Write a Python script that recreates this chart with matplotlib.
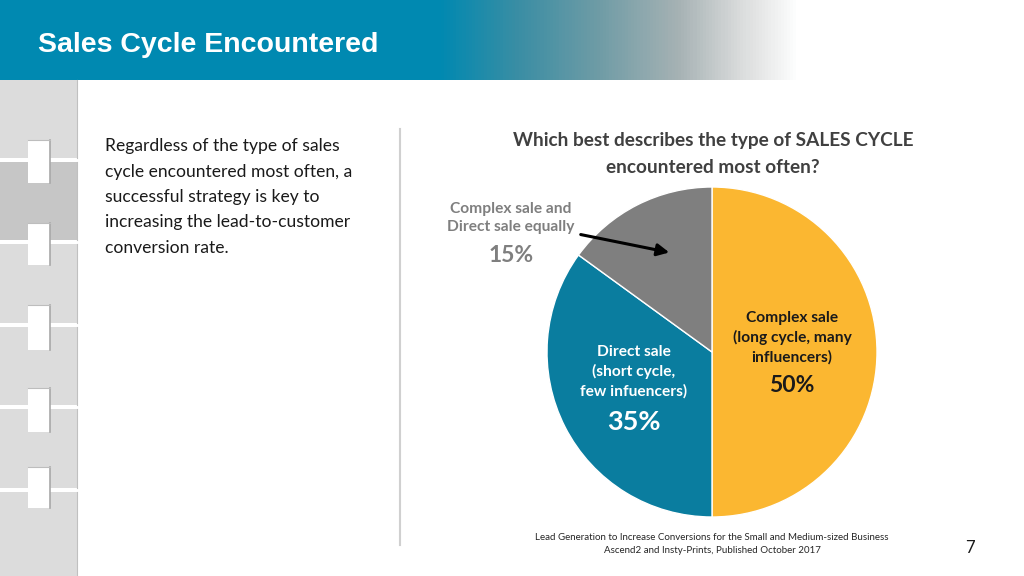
import numpy as np
import matplotlib.pyplot as plt
from matplotlib.colors import LinearSegmentedColormap
from matplotlib.patches import Rectangle

# data
slice_names = ['Complex sale\n(long cycle, many\ninfluencers)',
               'Direct sale\n(short cycle,\nfew infuencers)',
               'Complex sale and\nDirect sale equally']
slice_pcts = [50, 35, 15]
slice_colors = ['#FBB731', '#0A7D9F', '#7F7F7F']

title = 'Sales Cycle Encountered'
question = 'Which best describes the type of SALES CYCLE\nencountered most often?'
body_lines = ['Regardless of the type of sales',
              'cycle encountered most often, a',
              'successful strategy is key to',
              'increasing the lead-to-customer',
              'conversion rate.']
source_lines = ['Lead Generation to Increase Conversions for the Small and Medium-sized Business',
                'Ascend2 and Insty-Prints, Published October 2017']
page_no = '7'

W, H = 1024, 576
fig = plt.figure(figsize=(W / 100, H / 100), dpi=100)
fig.patch.set_facecolor('white')

# background layer in pixel coords
bg = fig.add_axes([0, 0, 1, 1], zorder=0)
bg.set_xlim(0, W)
bg.set_ylim(H, 0)
bg.axis('off')

# title bar gradient
stops = [(0.0, '#0089B1'), (440 / 800, '#0089B1'), (520 / 800, '#3B8EA4'),
         (600 / 800, '#6F9CA6'), (680 / 800, '#A6B2B4'), (740 / 800, '#D8DADA'),
         (1.0, '#FFFFFF')]
cmap = LinearSegmentedColormap.from_list('bar', stops)
grad = np.linspace(0, 1, 800).reshape(1, -1)
bg.imshow(grad, cmap=cmap, extent=[0, 800, 80, 0], aspect='auto', zorder=1)
bg.text(38, 45, title, color='white', fontsize=20.5, fontweight='bold',
        family=['Liberation Sans Narrow', 'Liberation Sans'], va='center', ha='left', zorder=3)

# binder strip on the left
blocks = [(80, 158), (162, 240), (244, 323), (327, 405), (409, 488), (492, 576)]
for i, (y0, y1) in enumerate(blocks):
    fc = '#C6C6C6' if i == 1 else '#DCDCDC'
    bg.add_patch(Rectangle((0, y0), 77, y1 - y0, facecolor=fc, edgecolor='none', zorder=1))
    bg.plot([77, 77], [y0, y1], color='#C0C0C0', lw=0.8, zorder=2)
tabs = [(140, 183), (223, 265), (305, 350), (388, 432), (467, 508)]
for y0, y1 in tabs:
    bg.add_patch(Rectangle((28, y0), 22, y1 - y0, facecolor='white', edgecolor='none', zorder=3))
    bg.plot([50, 50], [y0, y1], color='#A8A8A8', lw=1.2, zorder=4)
    bg.plot([28, 50], [y0, y0], color='#BDBDBD', lw=0.8, zorder=4)

# separator
bg.plot([400, 400], [129, 545], color='#D0D0D0', lw=1.5, zorder=1)

# pie
cx, cy, r = 712, 352, 165
pax = fig.add_axes([(cx - r) / W, (H - cy - r) / H, 2 * r / W, 2 * r / H], zorder=1)
pax.pie(slice_pcts, colors=slice_colors, startangle=90, counterclock=False,
        wedgeprops=dict(edgecolor='white', linewidth=1))
pax.set_xlim(-1, 1)
pax.set_ylim(-1, 1)
pax.set_aspect('equal')
pax.axis('off')

# text layer
tx = fig.add_axes([0, 0, 1, 1], zorder=2)
tx.set_xlim(0, W)
tx.set_ylim(H, 0)
tx.axis('off')
tx.patch.set_alpha(0)

for i, line in enumerate(body_lines):
    tx.text(105, 146 + i * 25.5, line, fontsize=12.6, family='Lato', color='#1A1A1A',
            va='center', ha='left')

tx.text(713, 154, question, fontsize=13.7, fontweight='bold', family='Lato',
        color='#404040', ha='center', va='center', linespacing=1.65)

tx.text(792, 338, slice_names[0], fontsize=11.2, fontweight='bold', family='Lato',
        color='#1A1A1A', ha='center', va='center', linespacing=1.45)
tx.text(792, 385, f'{slice_pcts[0]}%', fontsize=16.5, fontweight='bold', family='Lato',
        color='#1A1A1A', ha='center', va='center')

tx.text(634, 372, slice_names[1], fontsize=11.2, fontweight='bold', family='Lato',
        color='white', ha='center', va='center', linespacing=1.45)
tx.text(634, 422, f'{slice_pcts[1]}%', fontsize=19.5, fontweight='bold', family='Lato',
        color='white', ha='center', va='center')

tx.text(511, 218, slice_names[2], fontsize=11.2, fontweight='bold', family='Lato',
        color='#7F7F7F', ha='center', va='center', linespacing=1.45)
tx.text(511, 256, f'{slice_pcts[2]}%', fontsize=16.5, fontweight='bold', family='Lato',
        color='#7F7F7F', ha='center', va='center')
tx.annotate('', xy=(672, 253), xytext=(578, 234),
            arrowprops=dict(arrowstyle='-|>', color='black', lw=2.2, mutation_scale=18))

tx.text(712, 544, '\n'.join(source_lines), fontsize=7, family='Lato', color='#262626',
        ha='center', va='center', linespacing=1.5)
tx.text(970, 548, page_no, fontsize=12, family='Lato', color='#1A1A1A',
        ha='center', va='center')

fig.savefig('out.png', dpi=100, facecolor='white')
